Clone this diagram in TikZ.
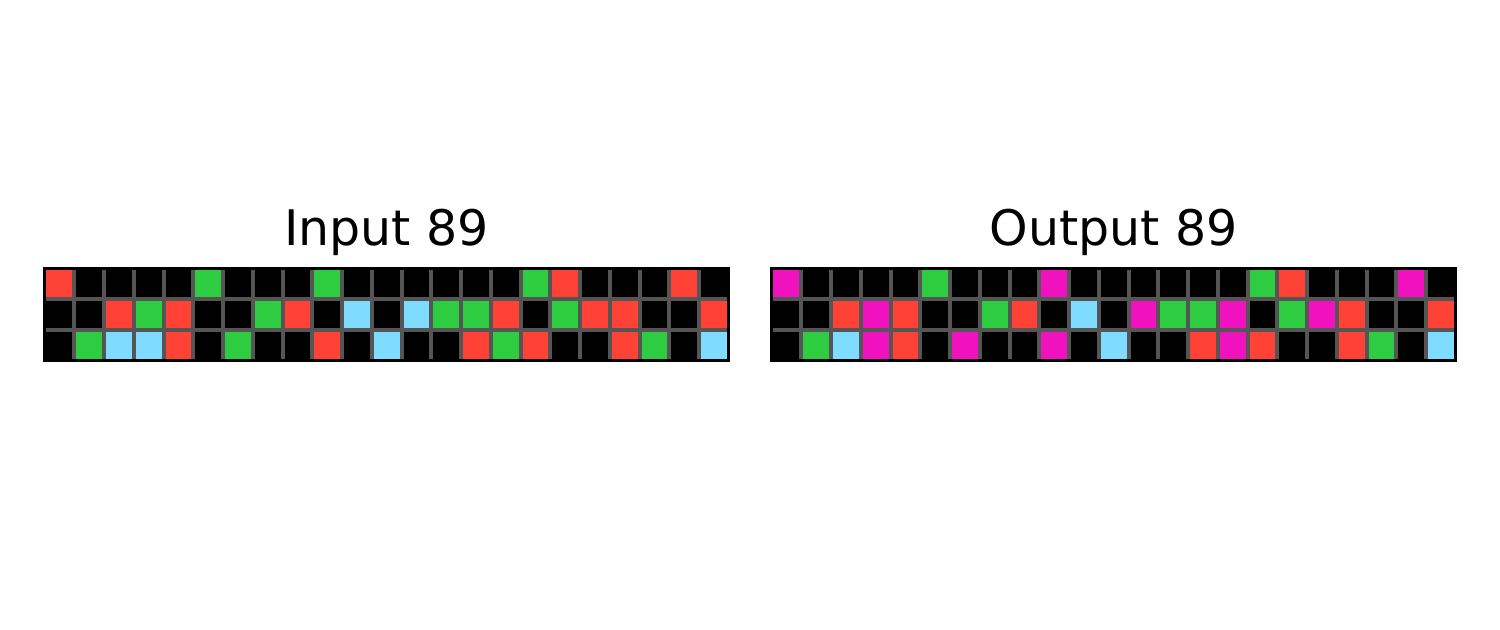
\documentclass[tikz,border=0pt]{standalone}
\usepackage{fontspec}
\setmainfont{DejaVu Sans}
\usepackage{xcolor}
\usetikzlibrary{positioning, calc}

\definecolor{arc0}{HTML}{000000}
\definecolor{arc2}{HTML}{FF4136}
\definecolor{arc3}{HTML}{2ECC40}
\definecolor{arc6}{HTML}{F012BE}
\definecolor{arc8}{HTML}{7FDBFF}
\definecolor{gridgray}{HTML}{555555}

\newcommand{\cellw}{29.75}
\newcommand{\cellh}{30.5}

\begin{document}
\begin{tikzpicture}[x=0.5pt, y=-0.5pt,
    title/.style={anchor=base, font=\fontsize{24.5}{28}\selectfont},
    gridline/.style={gridgray, line width=2pt},
    frame/.style={draw=black, line width=1.5pt}]
    \useasboundingbox (0,0) rectangle (1500,629);

    % input grid
    \coordinate (in) at (44.5,268.5);
    \foreach \row [count=\r from 0] in {
        {2,0,0,0,0,3,0,0,0,3,0,0,0,0,0,0,3,2,0,0,0,2,0},
        {0,0,2,3,2,0,0,3,2,0,8,0,8,3,3,2,0,3,2,2,0,0,2},
        {0,3,8,8,2,0,3,0,0,2,0,8,0,0,2,3,2,0,0,2,3,0,8}}
      \foreach \c [count=\i from 0] in \row
        \fill[arc\c] ($(in)+(\i*\cellw,\r*\cellh)$) rectangle +(\cellw,\cellh);
    \foreach \i in {1,...,22}
      \draw[gridline] ($(in)+(\i*\cellw,0)$) -- +(0,3*\cellh);
    \foreach \r in {1,2}
      \draw[gridline] ($(in)+(0,\r*\cellh)$) -- +(23*\cellw,0);
    \draw[frame] (in) rectangle +(23*\cellw,3*\cellh);
    \node[title] (intitle) at (386.5,245) {Input 89};

    % output grid
    \coordinate (out) at (771.5,268.5);
    \foreach \row [count=\r from 0] in {
        {6,0,0,0,0,3,0,0,0,6,0,0,0,0,0,0,3,2,0,0,0,6,0},
        {0,0,2,6,2,0,0,3,2,0,8,0,6,3,3,6,0,3,6,2,0,0,2},
        {0,3,8,6,2,0,6,0,0,6,0,8,0,0,2,6,2,0,0,2,3,0,8}}
      \foreach \c [count=\i from 0] in \row
        \fill[arc\c] ($(out)+(\i*\cellw,\r*\cellh)$) rectangle +(\cellw,\cellh);
    \foreach \i in {1,...,22}
      \draw[gridline] ($(out)+(\i*\cellw,0)$) -- +(0,3*\cellh);
    \foreach \r in {1,2}
      \draw[gridline] ($(out)+(0,\r*\cellh)$) -- +(23*\cellw,0);
    \draw[frame] (out) rectangle +(23*\cellw,3*\cellh);
    \node[title] (outtitle) at (1113.5,245) {Output 89};
\end{tikzpicture}
\end{document}
